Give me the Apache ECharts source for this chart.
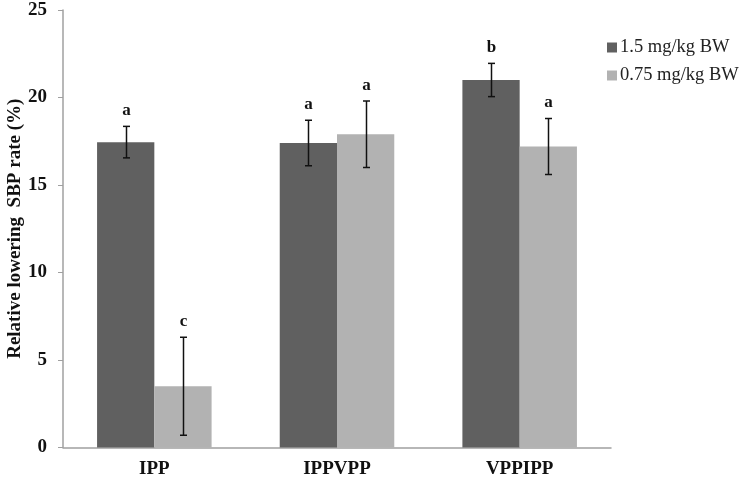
<!DOCTYPE html>
<html><head><meta charset="utf-8">
<script src="https://cdn.jsdelivr.net/npm/echarts@6/dist/echarts.min.js"></script>
<style>html,body{margin:0;padding:0;background:#fff}#c{width:746px;height:480px}</style>
</head><body><div id="c"></div>
<script>
const categories = ['IPP', 'IPPVPP', 'VPPIPP'];
const seriesNames = ['1.5 mg/kg BW', '0.75 mg/kg BW'];
const highDose = [17.45, 17.4, 21.0];
const highErr = [0.9, 1.3, 0.95];
const highLetters = ['a', 'a', 'b'];
const lowDose = [3.5, 17.9, 17.2];
const lowErr = [2.8, 1.9, 1.6];
const lowLetters = ['c', 'a', 'a'];
const yTicks = [0, 5, 10, 15, 20, 25];

const GAP = 0.373;
const FONT = '"Liberation Serif", "Times New Roman", serif';

function errData(vals, errs, letters) {
  return vals.map((v, i) => [i, v - errs[i], v + errs[i], letters[i]]);
}
function errSeries(data, side) {
  return {
    type: 'custom',
    z: 10,
    data: data,
    encode: { x: 0, y: [1, 2] },
    renderItem: function (params, api) {
      const i = api.value(0);
      const band = api.size([1, 0])[0];
      const barW = band * (1 - GAP) / 2;
      const lo = api.coord([i, api.value(1)]);
      const hi = api.coord([i, api.value(2)]);
      const x = Math.round(lo[0] + side * barW / 2) + 0.5;
      const hw = 3.5;
      return {
        type: 'group',
        children: [
          { type: 'line', shape: { x1: x, y1: lo[1], x2: x, y2: hi[1] }, style: { stroke: '#111', lineWidth: 1.5 } },
          { type: 'line', shape: { x1: x - hw, y1: lo[1], x2: x + hw, y2: lo[1] }, style: { stroke: '#111', lineWidth: 1.5 } },
          { type: 'line', shape: { x1: x - hw, y1: hi[1], x2: x + hw, y2: hi[1] }, style: { stroke: '#111', lineWidth: 1.5 } },
          { type: 'text', x: x, y: hi[1] - 7, style: { text: api.value(3), fontFamily: FONT, fontWeight: 'bold', fontSize: 17, fill: '#111', align: 'center', verticalAlign: 'bottom' } }
        ]
      };
    }
  };
}

const chart = echarts.init(document.getElementById('c'), null, { renderer: 'canvas' });
chart.setOption({
  animation: false,
  backgroundColor: '#fff',
  grid: { left: 63, right: 135, top: 10, bottom: 32.5, containLabel: false, outerBoundsMode: 'none' },
  legend: {
    data: seriesNames,
    orient: 'vertical',
    left: 602,
    top: 33,
    icon: 'rect',
    itemWidth: 10,
    itemHeight: 10,
    itemGap: 9,
    textStyle: { fontFamily: FONT, fontSize: 18.5, color: '#222', padding: [0, 0, 0, -2] }
  },
  xAxis: {
    type: 'category',
    data: categories,
    axisLine: { lineStyle: { color: '#a0a0a0', width: 1.5 } },
    axisTick: { show: false },
    axisLabel: { fontFamily: FONT, fontWeight: 'bold', fontSize: 19, color: '#111', margin: 12 }
  },
  yAxis: {
    type: 'value',
    min: 0, max: 25, interval: 5,
    name: 'Relative lowering  SBP rate (%)',
    nameLocation: 'middle',
    nameGap: 38,
    nameMoveOverlap: false,
    nameTextStyle: { fontFamily: FONT, fontWeight: 'bold', fontSize: 19, color: '#111' },
    axisLine: { show: true, lineStyle: { color: '#a0a0a0', width: 1.5 } },
    axisTick: { show: true, length: 5, lineStyle: { color: '#a0a0a0' } },
    splitLine: { show: false },
    axisLabel: { fontFamily: FONT, fontWeight: 'bold', fontSize: 19, color: '#111', margin: 16,
      formatter: v => yTicks.includes(v) ? String(v) : '' }
  },
  series: [
    { name: seriesNames[0], type: 'bar', data: highDose, barGap: '0%', barCategoryGap: (GAP * 100) + '%', itemStyle: { color: '#606060' } },
    { name: seriesNames[1], type: 'bar', data: lowDose, barGap: '0%', barCategoryGap: (GAP * 100) + '%', itemStyle: { color: '#b2b2b2' } },
    errSeries(errData(highDose, highErr, highLetters), -1),
    errSeries(errData(lowDose, lowErr, lowLetters), 1)
  ]
});
</script></body></html>
